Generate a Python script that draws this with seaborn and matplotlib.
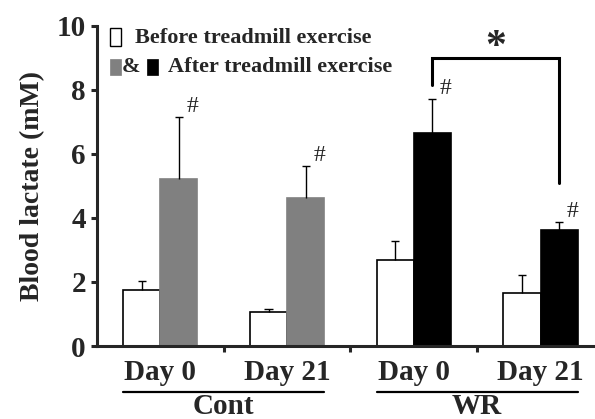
import matplotlib
matplotlib.use("Agg")
import matplotlib.pyplot as plt
import matplotlib.transforms as mtransforms
from matplotlib.patches import Rectangle
import pandas as pd
import seaborn as sns

# values (mean and upper error, mM)
conditions = ["Cont Day 0", "Cont Day 21", "WR Day 0", "WR Day 21"]
day_labels = ["Day 0", "Day 21", "Day 0", "Day 21"]
groups = ["Cont", "WR"]
before_mean = [1.75, 1.06, 2.70, 1.66]
before_err = [0.28, 0.10, 0.58, 0.56]
after_mean = [5.22, 4.62, 6.66, 3.62]
after_err = [1.95, 1.00, 1.06, 0.26]
after_colors = ["#808080", "#808080", "#000000", "#000000"]

df = pd.DataFrame({
    "condition": conditions * 2,
    "phase": ["Before"] * 4 + ["After"] * 4,
    "value": before_mean + after_mean,
})

sns.set_style("ticks")
plt.rcParams["font.family"] = ["Liberation Serif", "DejaVu Serif"]
plt.rcParams["font.weight"] = "bold"

fig = plt.figure(figsize=(5.95, 4.19), dpi=100)
ax = fig.add_axes([97 / 595, 73 / 419, 498 / 595, 320 / 419])

sns.barplot(data=df, x="condition", y="value", hue="phase",
            order=conditions, hue_order=["Before", "After"],
            palette=["white", "#808080"], saturation=1, width=0.585,
            errorbar=None, edgecolor="black", linewidth=1.2,
            legend=False, ax=ax)

before_bars = ax.containers[0]
after_bars = ax.containers[1]
for bar, c in zip(after_bars, after_colors):
    bar.set_facecolor(c)
    bar.set_edgecolor(c)

# one-sided error bars (upper whisker + cap only)
centers_after = []
for bars, errs in [(before_bars, before_err), (after_bars, after_err)]:
    for bar, e in zip(bars, errs):
        xc = bar.get_x() + bar.get_width() / 2
        top = bar.get_height()
        ax.vlines(xc, top, top + e, color="black", lw=1, zorder=3)
        ax.hlines(top + e, xc - 0.032, xc + 0.032, color="black", lw=1,
                  zorder=3)
        if bars is after_bars:
            centers_after.append(xc)

# significance marks
for xc, m, e in zip(centers_after, after_mean, after_err):
    ax.text(xc + 0.06, m + e, "#", fontsize=17, fontweight="normal",
            ha="left", va="bottom")

# bracket between WR day 0 and day 21
x1, x2 = centers_after[2], centers_after[3]
ax.plot([x1, x1, x2, x2], [8.16, 9.0, 9.0, 5.1], color="black", lw=2.2,
        solid_joinstyle="miter", clip_on=False)
ax.text((x1 + x2) / 2, 9.3, "*", fontsize=30, ha="center", va="center")

ax.set_xlim(-0.5, 3.43)
ax.set_ylim(0, 10)
ax.set_yticks(range(0, 11, 2))
ax.set_xticks([0.5, 1.5, 2.5])
ax.set_xticklabels([])
ax.set_xticks(range(4), minor=True)
ax.set_xticklabels(day_labels, minor=True)
ax.tick_params(axis="x", which="minor", length=0, pad=9, labelsize=21)
ax.tick_params(axis="x", which="major", length=4, width=2.2, direction="out")
ax.tick_params(axis="y", length=4, width=2.2, pad=4, labelsize=21)
ax.set_xlabel("")
ax.set_ylabel("Blood lactate (mM)", fontsize=20, fontweight="bold", labelpad=8)
for s in ["top", "right"]:
    ax.spines[s].set_visible(False)
for s in ["left", "bottom"]:
    ax.spines[s].set_linewidth(2.2)

# group lines and labels under the x axis
trans = mtransforms.blended_transform_factory(ax.transData, ax.transAxes)
for gi, g in enumerate(groups):
    left = before_bars[2 * gi].get_x()
    rb = after_bars[2 * gi + 1]
    right = rb.get_x() + rb.get_width()
    ax.plot([left, right], [-0.144, -0.144], color="black", lw=1.6,
            transform=trans, clip_on=False)
    ax.text(2 * gi + 0.5, -0.19, g, transform=trans, ha="center",
            va="center", fontsize=21, fontweight="bold")

# hand-made legend
ax.add_patch(Rectangle((-0.397, 9.375), 0.087, 0.565, facecolor="white",
                       edgecolor="black", lw=1, clip_on=False))
ax.text(-0.2, 9.62, "Before treadmill exercise", fontsize=16,
        fontweight="bold", va="center", ha="left")
ax.add_patch(Rectangle((-0.397, 8.47), 0.087, 0.5, facecolor="#808080",
                       edgecolor="#808080", lw=0.5, clip_on=False))
ax.text(-0.305, 8.72, "&", fontsize=16, fontweight="bold", va="center",
        ha="left")
ax.add_patch(Rectangle((-0.105, 8.47), 0.087, 0.5, facecolor="black",
                       edgecolor="black", lw=0.5, clip_on=False))
ax.text(0.06, 8.72, "After treadmill exercise", fontsize=16,
        fontweight="bold", va="center", ha="left")

fig.savefig("out.png", dpi=100)
